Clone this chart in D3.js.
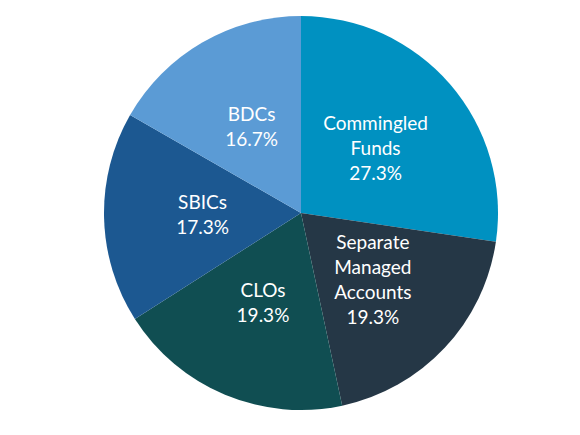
<!DOCTYPE html>
<html>
<head>
<meta charset="utf-8">
<script src="https://cdn.jsdelivr.net/npm/d3@7"></script>
<style>
  body { margin: 0; background: #fff; }
  .slice-label { font-family: Lato, "Open Sans", sans-serif; font-size: 19px; font-weight: 400; fill: #fff; }
</style>
</head>
<body>
<div id="chart"></div>
<script>
// Chart data
var categories = ["Commingled Funds", "Separate Managed Accounts", "CLOs", "SBICs", "BDCs"];
var shares = [27.3, 19.3, 19.3, 17.3, 16.7];
var labelLines = [
  ["Commingled", "Funds", "27.3%"],
  ["Separate", "Managed", "Accounts", "19.3%"],
  ["CLOs", "19.3%"],
  ["SBICs", "17.3%"],
  ["BDCs", "16.7%"]
];
var colors = ["#0091c1", "#253746", "#104e52", "#1c5891", "#5b9bd5"];

// SVG Dimensions
var svgWidth = 580;
var svgHeight = 435;
var cx = 301;
var cy = 213;
var radius = 197;

var svg = d3.select("#chart")
  .append("svg")
  .attr("width", svgWidth)
  .attr("height", svgHeight);

var chartGroup = svg.append("g")
  .attr("transform", `translate(${cx}, ${cy})`);

var data = categories.map(function(c, i) {
  return { name: c, value: shares[i], lines: labelLines[i], color: colors[i] };
});

var pie = d3.pie()
  .sort(null)
  .value(d => d.value);

var arc = d3.arc()
  .innerRadius(0)
  .outerRadius(radius);

var labelArc = d3.arc()
  .innerRadius(radius * 0.5)
  .outerRadius(radius * 0.5);

var arcs = pie(data);

// Slices
chartGroup.selectAll("path")
  .data(arcs)
  .enter()
  .append("path")
  .attr("d", arc)
  .attr("fill", d => d.data.color);

// Labels
var lineHeight = 25;
var labels = chartGroup.append("g").selectAll("text")
  .data(arcs)
  .enter()
  .append("text")
  .attr("class", "slice-label")
  .attr("text-anchor", "middle")
  .attr("transform", d => `translate(${labelArc.centroid(d)})`);

labels.each(function(d) {
  var n = d.data.lines.length;
  var t = d3.select(this);
  d.data.lines.forEach(function(line, i) {
    t.append("tspan")
      .attr("x", 0)
      .attr("y", (i - (n - 1) / 2) * lineHeight + 6)
      .text(line);
  });
});
</script>
</body>
</html>
